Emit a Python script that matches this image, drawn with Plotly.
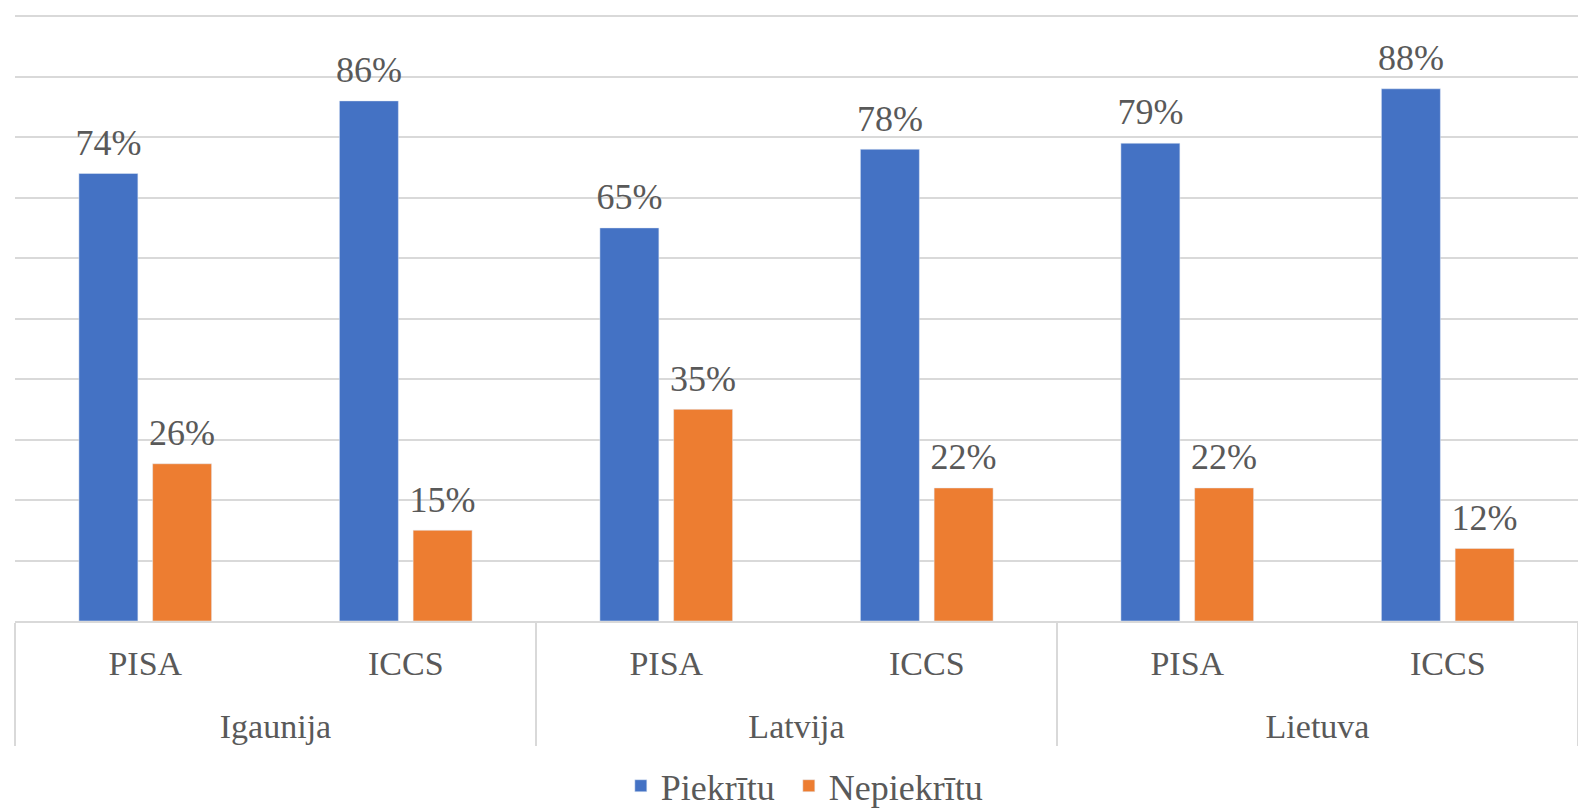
import plotly.graph_objects as go

countries = ["Igaunija", "Igaunija", "Latvija", "Latvija", "Lietuva", "Lietuva"]
surveys = ["PISA", "ICCS", "PISA", "ICCS", "PISA", "ICCS"]
piekritu = [74, 86, 65, 78, 79, 88]
nepiekritu = [26, 15, 35, 22, 22, 12]

FONT = "Liberation Serif"
TXT = "#595959"
BLUE = "#4472C4"
ORANGE = "#ED7D31"
GAP = 0.434

# outer level labels placed lower (line break, then nudged up a little)
outer = ["<br><span style='baseline-shift:9px'>" + c + "</span>" for c in countries]

fig = go.Figure()
for name, vals, col, grp in [("Piekrītu\u00a0", piekritu, BLUE, "a"),
                             ("Nepiekrītu", nepiekritu, ORANGE, "b")]:
    fig.add_trace(go.Bar(
        x=[outer, surveys], y=vals, name=name,
        marker=dict(color=col), offsetgroup=grp,
        hovertemplate="%{y}%<extra>" + name + "</extra>",
    ))
for vals, grp in [(piekritu, "a"), (nepiekritu, "b")]:
    fig.add_trace(go.Scatter(
        x=[outer, surveys], y=vals, mode="markers+text",
        text=[f"{v}%" for v in vals], textposition="top center",
        textfont=dict(family=FONT, size=36, color=TXT),
        marker=dict(size=14, opacity=0), offsetgroup=grp,
        showlegend=False, hoverinfo="skip", cliponaxis=False,
    ))

fig.update_layout(
    width=1578, height=809,
    margin=dict(l=15, r=0, t=15, b=188, autoexpand=False),
    paper_bgcolor="white", plot_bgcolor="white",
    barmode="group", bargap=GAP, bargroupgap=0.2,
    scattermode="group", scattergap=GAP,
    font=dict(family=FONT, size=34, color=TXT),
    legend=dict(orientation="h", x=0.505, xanchor="center", y=-0.272, yanchor="middle",
                font=dict(family=FONT, size=36, color=TXT)),
)
fig.update_yaxes(range=[0, 100.2], dtick=10, showticklabels=False, showgrid=True,
                 gridcolor="#D9D9D9", gridwidth=1.5, zeroline=False, automargin=False)
fig.update_xaxes(showline=True, linecolor="#D9D9D9", linewidth=1.5,
                 showdividers=True, dividercolor="#D9D9D9", dividerwidth=1.5,
                 tickfont=dict(family=FONT, size=34, color=TXT), ticks="",
                 ticklabelstandoff=11, automargin=False)

fig.write_html(
    "out.html",
    config={"displayModeBar": False},
    post_script="document.body.style.margin='0';document.body.style.overflow='hidden';",
)
